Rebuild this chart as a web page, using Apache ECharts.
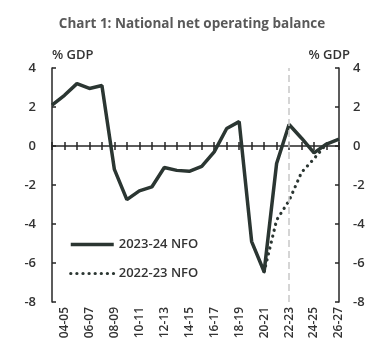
<!DOCTYPE html>
<html>
<head>
<meta charset="utf-8">
<script src="https://cdn.jsdelivr.net/npm/echarts@6/dist/echarts.min.js"></script>
<style>
  html, body { margin: 0; padding: 0; background: #fff; }
  #chart { width: 384px; height: 351px; }
</style>
</head>
<body>
<div id="chart"></div>
<script>
// financial years, 03-04 sits on the left axis
var years = ['03-04', '04-05', '05-06', '06-07', '07-08', '08-09', '09-10', '10-11', '11-12',
  '12-13', '13-14', '14-15', '15-16', '16-17', '17-18', '18-19', '19-20', '20-21',
  '21-22', '22-23', '23-24', '24-25', '25-26', '26-27'];
var nfo2324 = [2.1, 2.6, 3.2, 2.95, 3.1, -1.2, -2.75, -2.3, -2.1, -1.1, -1.25, -1.3, -1.05,
  -0.3, 0.9, 1.25, -4.9, -6.45, -0.9, 1.1, 0.4, -0.35, 0.1, 0.35];
var nfo2223 = [null, null, null, null, null, null, null, null, null, null, null, null, null,
  null, null, null, null, -6.45, -3.8, -2.8, -1.35, -0.65, 0.1, null];
var yTicks = { min: -8, max: 4, step: 2 };
var budgetYear = '22-23';

var font = 'Open Sans';
var textCol = '#333333';
var lineCol = '#2b3632';

var chart = echarts.init(document.getElementById('chart'));

function yAxisCfg(side) {
  var left = side === 'left';
  return {
    type: 'value',
    position: side,
    min: yTicks.min,
    max: yTicks.max,
    interval: yTicks.step,
    name: '% GDP',
    nameLocation: 'end',
    nameGap: 6,
    nameTextStyle: {
      color: textCol, fontFamily: font, fontSize: 13, fontWeight: 600,
      align: left ? 'left' : 'right',
      padding: left ? [0, 0, 0, 0] : [0, -11, 0, 0]
    },
    axisLine: { show: true, lineStyle: { color: '#262626', width: 1.5 } },
    axisTick: { show: true, inside: true, length: 4, lineStyle: { color: '#262626', width: 1.5 } },
    axisLabel: { color: textCol, fontFamily: font, fontSize: 13, fontWeight: 600, margin: left ? 16 : 14 },
    splitLine: { show: false }
  };
}

chart.setOption({
  animation: false,
  title: {
    text: 'Chart 1: National net operating balance',
    left: 'center',
    top: 12,
    textStyle: { color: '#595959', fontFamily: font, fontSize: 13.5, fontWeight: 'bold' }
  },
  legend: {
    orient: 'vertical',
    left: 64,
    top: 233,
    itemWidth: 43,
    itemHeight: 10,
    itemGap: 16,
    itemStyle: { opacity: 0 },
    lineStyle: { width: 'inherit' },
    textStyle: { color: textCol, fontFamily: font, fontSize: 13, fontWeight: 600 },
    data: ['2023-24 NFO', '2022-23 NFO']
  },
  grid: { left: 52, right: 45, top: 68, bottom: 49 },
  xAxis: [
    {
      // labels along the bottom
      type: 'category',
      data: years,
      boundaryGap: false,
      position: 'bottom',
      axisLine: { show: false, onZero: false },
      axisTick: { show: false },
      axisLabel: {
        rotate: 90,
        margin: 5,
        color: textCol,
        fontFamily: font,
        fontSize: 12,
        fontWeight: 600,
        interval: function (i) { return i % 2 === 1; }
      }
    },
    {
      // zero line, ticks downward
      type: 'category',
      data: years,
      boundaryGap: false,
      position: 'bottom',
      axisLine: { show: true, onZero: true, lineStyle: { color: '#262626', width: 1.5 } },
      axisTick: { show: true, length: 4, interval: 0, lineStyle: { color: '#262626', width: 1.5 } },
      axisLabel: { show: false }
    },
    {
      // ticks upward from the zero line
      type: 'category',
      data: years,
      boundaryGap: false,
      position: 'top',
      axisLine: { show: false, onZero: true },
      axisTick: { show: true, length: 4, interval: 0, lineStyle: { color: '#262626', width: 1.5 } },
      axisLabel: { show: false }
    }
  ],
  yAxis: [yAxisCfg('left'), yAxisCfg('right')],
  series: [
    {
      name: '2023-24 NFO',
      type: 'line',
      data: nfo2324,
      symbol: 'none',
      z: 3,
      lineStyle: { color: lineCol, width: 3.5 },
      itemStyle: { color: lineCol },
      markLine: {
        silent: true,
        symbol: 'none',
        label: { show: false },
        lineStyle: { color: '#c8c8c8', type: [7, 4], width: 1.5 },
        data: [{ xAxis: budgetYear }]
      }
    },
    {
      name: '2022-23 NFO',
      type: 'line',
      data: nfo2223,
      symbol: 'none',
      z: 2,
      lineStyle: { color: lineCol, width: 3.2, type: [0.1, 6], cap: 'round' },
      itemStyle: { color: lineCol }
    }
  ]
});
</script>
</body>
</html>
